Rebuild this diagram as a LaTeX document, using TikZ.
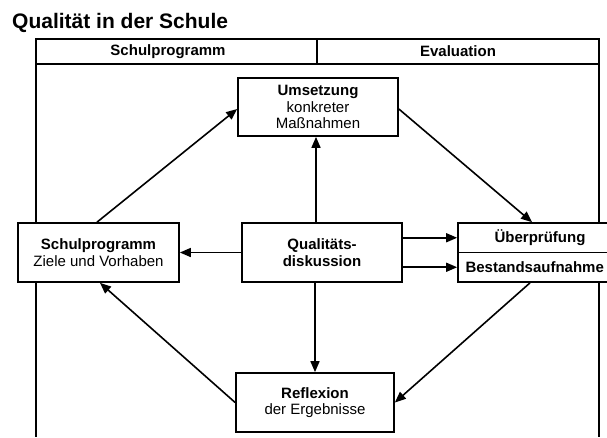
\documentclass[tikz,border=0pt]{standalone}
\usepackage{fontspec}
\setmainfont{Liberation Sans}
\usetikzlibrary{arrows.meta,calc}
\tikzset{
  x=1pt, y=-1pt,
  box/.style={draw, line width=1.7pt, fill=white, inner sep=0pt, align=center,
    font=\fontsize{15}{16.5}\selectfont},
  arr/.style={line width=1.6pt, -{Triangle[length=11pt,width=9pt]}},
  frame/.style={line width=1.7pt},
  hdr/.style={font=\fontsize{15}{16}\selectfont\bfseries, inner sep=0pt}
}
\begin{document}
\begin{tikzpicture}
\clip (0,0) rectangle (607,437);
\fill[white] (0,0) rectangle (607,437);
% title
\node[anchor=base west, inner sep=0pt, font=\fontsize{21}{24}\selectfont\bfseries] (title) at (12,28) {Qualität in der Schule};
% frame
\coordinate (ftl) at (36,39);
\coordinate (fbr) at (599,64);
\coordinate (fdt) at (317,39);
\coordinate (fdb) at (317,64);
\coordinate (fl) at (36,437);
\coordinate (fr) at (599,437);
\draw[frame] (ftl) rectangle (fbr);
\draw[frame] (fdt) -- (fdb);
\draw[frame] (ftl |- fbr) -- (fl);
\draw[frame] (fbr) -- (fr);
\node[hdr] (h1) at (168,51.5) {Schulprogramm};
\node[hdr] (h2) at (458,51.5) {Evaluation};
% boxes
\node[box, minimum width=160pt, minimum height=58pt] (um) at (318,107)
  {\textbf{Umsetzung}\\konkreter\\Maßnahmen};
\node[box, minimum width=160pt, minimum height=59pt] (q) at (322,252.5)
  {\textbf{Qualitäts-}\\\textbf{diskussion}};
\node[box, minimum width=161pt, minimum height=59pt] (sp) at (98.5,252.5)
  {\textbf{Schulprogramm}\\Ziele und Vorhaben};
\node[box, minimum width=158pt, minimum height=59pt] (refl) at (315,402.5)
  {\textbf{Reflexion}\\der Ergebnisse};
\node[box, minimum width=164pt, minimum height=29.5pt, font=\fontsize{15}{16}\selectfont\bfseries] (ueA) at (540,237.75) {Überprüfung};
\node[box, minimum width=164pt, minimum height=29.5pt, font=\fontsize{15}{16}\selectfont\bfseries] (ueB) at (540,267.25) {\makebox[164pt][l]{\hspace{7.5pt}Bestandsaufnahme}};
% arrows
\draw[arr] ([xshift=-6pt]q.north) -- ([xshift=-6pt]q.north |- um.south);
\draw[arr] ([xshift=-7pt]q.south) -- ([xshift=-7pt]q.south |- refl.north);
\draw[arr] (q.west |- sp.east) -- (sp.east);
\draw[arr] (q.east |- ueA.west) -- (ueA.west);
\draw[arr] (q.east |- ueB.west) -- (ueB.west);
\draw[arr] ([xshift=-1.5pt]sp.north) -- ([yshift=-2pt]um.west);
\draw[arr] ([yshift=-2pt]um.east) -- ([xshift=-8pt]ueA.north);
\draw[arr] ([xshift=-10pt]ueB.south) -- (refl.east);
\draw[arr] (refl.west) -- ([xshift=1.5pt]sp.south);
\end{tikzpicture}
\end{document}
